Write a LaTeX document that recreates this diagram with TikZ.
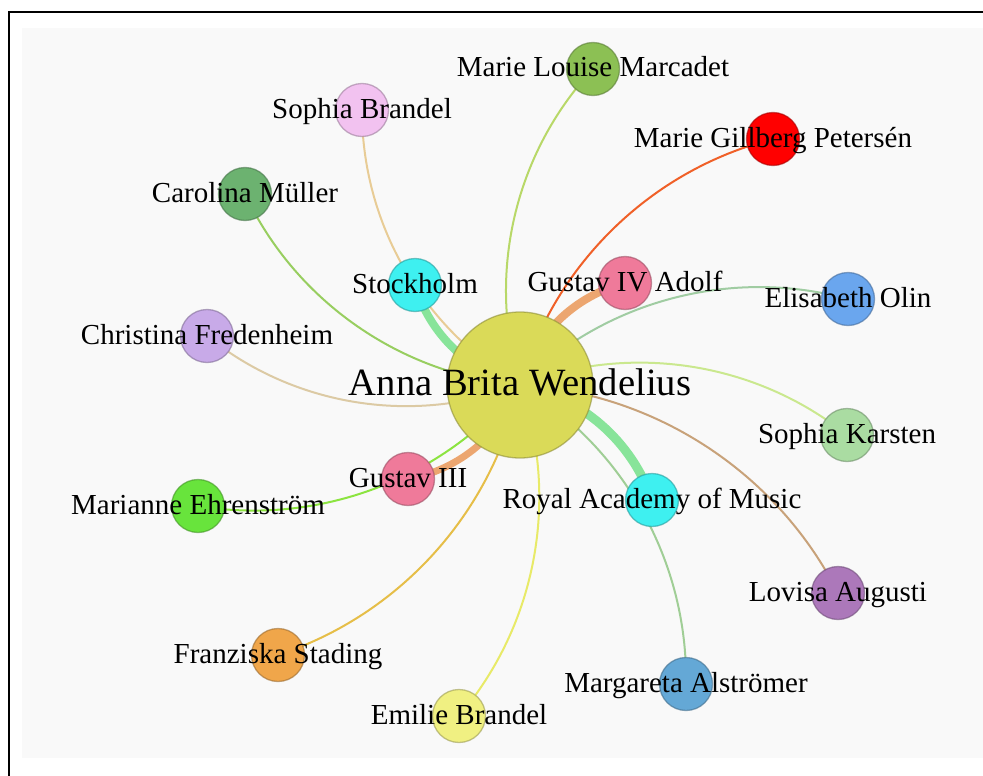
\documentclass[tikz,border=0pt]{standalone}
\usepackage{fontspec}
\setmainfont{Liberation Serif}

\pgfdeclarelayer{sheet}
\pgfdeclarelayer{links}
\pgfsetlayers{sheet,links,main}

% node fills
\definecolor{hubfill}{RGB}{218,218,88}
\definecolor{cyanfill}{RGB}{62,240,240}
\definecolor{rosefill}{RGB}{239,122,154}
\definecolor{redfill}{RGB}{255,0,0}
\definecolor{skyfill}{RGB}{106,166,238}
\definecolor{olivefill}{RGB}{140,192,84}
\definecolor{orchidfill}{RGB}{242,194,240}
\definecolor{forestfill}{RGB}{108,178,112}
\definecolor{lilacfill}{RGB}{200,170,232}
\definecolor{limefill}{RGB}{104,228,60}
\definecolor{orangefill}{RGB}{240,166,74}
\definecolor{lemonfill}{RGB}{240,240,130}
\definecolor{steelfill}{RGB}{100,168,214}
\definecolor{plumfill}{RGB}{172,120,186}
\definecolor{mintfill}{RGB}{170,220,162}
\definecolor{sheetgray}{RGB}{249,249,249}

% link colours
\definecolor{placetie}{RGB}{136,228,154}
\definecolor{kingtie}{RGB}{236,166,112}
\definecolor{sbrandeltie}{RGB}{232,204,150}
\definecolor{mullertie}{RGB}{152,206,96}
\definecolor{fredenheimtie}{RGB}{220,202,164}
\definecolor{marcadettie}{RGB}{184,216,104}
\definecolor{gillbergtie}{RGB}{240,96,40}
\definecolor{olintie}{RGB}{160,204,162}
\definecolor{karstentie}{RGB}{202,232,142}
\definecolor{augustitie}{RGB}{200,162,122}
\definecolor{alstromertie}{RGB}{160,206,150}
\definecolor{ebrandeltie}{RGB}{232,234,104}
\definecolor{stadingtie}{RGB}{230,190,72}
\definecolor{ehrenstromtie}{RGB}{140,228,64}

\tikzset{
  person/.style={circle, minimum size=53, inner sep=0, line width=1.3,
    fill=#1, draw=#1!65!black, draw opacity=0.6},
  hub/.style={person=#1, minimum size=146},
  nametext/.style={anchor=base, yshift=-8, inner sep=0,
    font=\fontsize{29}{29}\selectfont},
  tie/.style={draw=#1, line width=2, bend left=30, looseness=0.91},
  strongtie/.style={tie=#1, line width=8},
}

% circle plus its name on top
\newcommand{\addperson}[4]{
  \node[person=#2] (#1) at (#3) {};
  \node[nametext] (#1-name) at (#1) {#4};
}

\begin{document}
\begin{tikzpicture}[x=1pt, y=1pt]
  \useasboundingbox (0,0) rectangle (983,-776);
  \begin{pgfonlayer}{sheet}
    % Gray sheet and frame
    \fill[sheetgray] (22,-28) rectangle (983,-758);
    \draw[line width=2.2] (983,-12) -- (9,-12) -- (9,-776);
  \end{pgfonlayer}

  % Centre
  \node[hub=hubfill] (anna) at (520,-385) {};
  \node[nametext, yshift=-2, font=\fontsize{38.6}{38.6}\selectfont] (anna-name) at (anna)
    {Anna Brita Wendelius};

  % Places and kings
  \addperson{stockholm}{cyanfill}{415,-285}{Stockholm}
  \addperson{gustavfour}{rosefill}{625,-283}{Gustav IV Adolf}
  \addperson{gustavthree}{rosefill}{408,-479}{Gustav III}
  \addperson{academy}{cyanfill}{652,-500}{Royal Academy of Music}

  % Others
  \addperson{marcadet}{olivefill}{593,-69}{Marie Louise Marcadet}
  \addperson{gillberg}{redfill}{773,-139}{Marie Gillberg Petersén}
  \addperson{olin}{skyfill}{848,-299}{Elisabeth Olin}
  \addperson{karsten}{mintfill}{847,-435}{Sophia Karsten}
  \addperson{augusti}{plumfill}{838,-593}{Lovisa Augusti}
  \addperson{alstromer}{steelfill}{686,-684}{Margareta Alströmer}
  \addperson{ebrandel}{lemonfill}{459,-716}{Emilie Brandel}
  \addperson{stading}{orangefill}{278,-655}{Franziska Stading}
  \addperson{ehrenstrom}{limefill}{198,-506}{Marianne Ehrenström}
  \addperson{fredenheim}{lilacfill}{207,-336}{Christina Fredenheim}
  \addperson{muller}{forestfill}{245,-194}{Carolina Müller}
  \addperson{sbrandel}{orchidfill}{362,-110}{Sophia Brandel}

  \begin{pgfonlayer}{links}
    % Thick links
    \draw[strongtie=placetie] (anna.center) to (stockholm.center);
    \draw[strongtie=placetie, line width=9] (anna.center) to (academy.center);
    \draw[strongtie=kingtie] (anna.center) to (gustavfour.center);
    \draw[strongtie=kingtie, line width=7] (anna.center) to (gustavthree.center);
    % Thin links
    \draw[tie=sbrandeltie] (anna.center) to (sbrandel.center);
    \draw[tie=mullertie] (anna.center) to (muller.center);
    \draw[tie=fredenheimtie] (anna.center) to (fredenheim.center);
    \draw[tie=marcadettie] (anna.center) to (marcadet.center);
    \draw[tie=gillbergtie] (anna.center) to (gillberg.center);
    \draw[tie=olintie] (anna.center) to (olin.center);
    \draw[tie=karstentie] (anna.center) to (karsten.center);
    \draw[tie=augustitie] (anna.center) to (augusti.center);
    \draw[tie=alstromertie] (anna.center) to (alstromer.center);
    \draw[tie=ebrandeltie] (anna.center) to (ebrandel.center);
    \draw[tie=stadingtie] (anna.center) to (stading.center);
    \draw[tie=ehrenstromtie] (anna.center) to (ehrenstrom.center);
  \end{pgfonlayer}
\end{tikzpicture}
\end{document}
